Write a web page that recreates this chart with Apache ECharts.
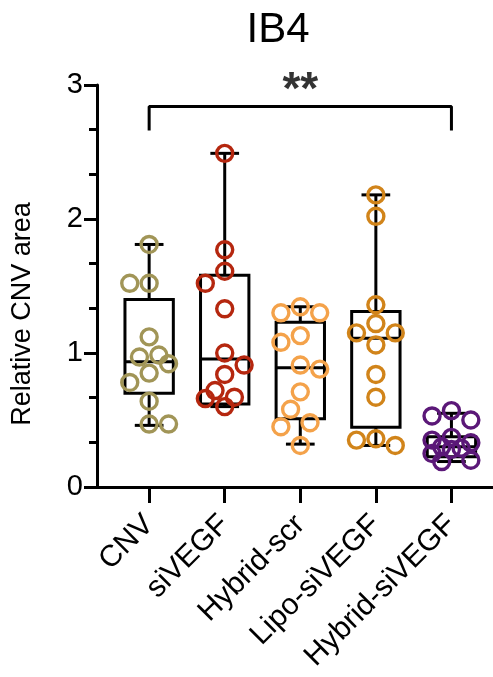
<!DOCTYPE html>
<html>
<head>
<meta charset="utf-8">
<script src="https://cdn.jsdelivr.net/npm/echarts@6/dist/echarts.min.js"></script>
<style>
html,body{margin:0;padding:0;background:#fff;}
#c{width:493px;height:677px;}
</style>
</head>
<body>
<div id="c"></div>
<script>
// ---- data ----
const categories = ['CNV', 'siVEGF', 'Hybrid-scr', 'Lipo-siVEGF', 'Hybrid-siVEGF'];
const cnvValues = [1.81, 1.52, 1.52, 1.12, 0.985, 0.97, 0.92, 0.85, 0.78, 0.64, 0.47, 0.47];
const siVEGFValues = [2.49, 1.77, 1.61, 1.52, 1.33, 1.00, 0.91, 0.84, 0.72, 0.67, 0.66, 0.60];
const hybridScrValues = [1.345, 1.30, 1.30, 1.13, 1.08, 0.91, 0.88, 0.71, 0.58, 0.48, 0.45, 0.31];
const lipoSiVEGFValues = [2.18, 2.02, 1.36, 1.22, 1.15, 1.15, 1.06, 0.84, 0.67, 0.36, 0.35, 0.31];
const hybridSiVEGFValues = [0.57, 0.53, 0.50, 0.37, 0.35, 0.33, 0.30, 0.29, 0.28, 0.25, 0.20, 0.19];
// box stats: [min, Q1, median, Q3, max]
const boxStats = [
  [0.46, 0.70, 0.935, 1.40, 1.81],
  [0.60, 0.62, 0.955, 1.58, 2.49],
  [0.32, 0.51, 0.89, 1.23, 1.345],
  [0.31, 0.445, 1.11, 1.31, 2.18],
  [0.19, 0.225, 0.30, 0.375, 0.55]
];
const yTicks = [0, 1, 2, 3];
const significance = { from: 0, to: 4, label: '**', y: 2.84, leg: 2.66 };
const titleText = 'IB4';
const yAxisName = 'Relative CNV area';

// ---- styling ----
const groupValues = [cnvValues, siVEGFValues, hybridScrValues, lipoSiVEGFValues, hybridSiVEGFValues];
const colors = ['#a19557', '#b5270f', '#f4a24a', '#d1841a', '#5b1878'];
const FONT = 'Liberation Sans, Arial, Helvetica, sans-serif';
const BOX_HALF = 0.32;
const CAP_HALF = 0.19;
const SYM = 16;
const BW = 3.4;
const LW = 3;

const chart = echarts.init(document.getElementById('c'), null, { renderer: 'canvas' });

function boxSeries() {
  return {
    type: 'custom',
    z: 2,
    clip: false,
    data: boxStats.map((s, i) => [i].concat(s)),
    renderItem: function (params, api) {
      const x = api.value(0);
      const mn = api.value(1), q1 = api.value(2), md = api.value(3), q3 = api.value(4), mx = api.value(5);
      const tl = api.coord([x - BOX_HALF, q3]);
      const br = api.coord([x + BOX_HALF, q1]);
      const st = { stroke: '#000', lineWidth: LW, fill: null };
      const line = (a, b) => ({ type: 'line', shape: { x1: a[0], y1: a[1], x2: b[0], y2: b[1] }, style: { stroke: '#000', lineWidth: LW } });
      return {
        type: 'group',
        children: [
          { type: 'rect', shape: { x: tl[0], y: tl[1], width: br[0] - tl[0], height: br[1] - tl[1] }, style: st },
          line(api.coord([x - BOX_HALF, md]), api.coord([x + BOX_HALF, md])),
          line(api.coord([x, q3]), api.coord([x, mx])),
          line(api.coord([x, q1]), api.coord([x, mn])),
          line(api.coord([x - CAP_HALF, mx]), api.coord([x + CAP_HALF, mx])),
          line(api.coord([x - CAP_HALF, mn]), api.coord([x + CAP_HALF, mn]))
        ]
      };
    }
  };
}

function pointSeries(xOffsets) {
  return groupValues.map((vals, gi) => ({
    type: 'scatter',
    z: 5,
    symbol: 'circle',
    symbolSize: SYM,
    clip: false,
    itemStyle: { color: 'rgba(255,255,255,0)', borderColor: colors[gi], borderWidth: BW, opacity: 1 },
    emphasis: { disabled: true },
    data: vals.map((v, i) => [gi + (xOffsets ? xOffsets[gi][i] : 0), v])
  }));
}

function buildOption(xOffsets) {
  return {
    animation: false,
    backgroundColor: '#fff',
    title: {
      text: titleText,
      left: 273,
      top: 4,
      textAlign: 'center',
      textStyle: { fontFamily: FONT, fontSize: 42, fontWeight: 'normal', color: '#000' }
    },
    graphic: [{
      type: 'text',
      x: 23, y: 314,
      rotation: Math.PI / 2,
      style: { text: yAxisName, font: '27px ' + FONT, fill: '#000', textAlign: 'center', textVerticalAlign: 'middle' }
    }],
    grid: { left: 97, right: 0, top: 85, bottom: 190, containLabel: false },
    xAxis: {
      type: 'value',
      min: -0.69,
      max: 4.55,
      splitLine: { show: false },
      axisLine: { show: true, onZero: false, lineStyle: { color: '#000', width: LW } },
      axisTick: { show: true, customValues: [0, 1, 2, 3, 4], length: 16, lineStyle: { color: '#000', width: LW } },
      axisLabel: {
        show: true,
        customValues: [0, 1, 2, 3, 4],
        formatter: v => categories[Math.round(v)],
        rotate: 45,
        margin: 33,
        fontFamily: FONT, fontSize: 30, color: '#000'
      }
    },
    yAxis: {
      type: 'value',
      min: 0, max: 3, interval: 1,
      splitLine: { show: false },
      axisLine: { show: true, onZero: false, lineStyle: { color: '#000', width: LW } },
      axisTick: { show: true, length: 13, lineStyle: { color: '#000', width: LW } },
      minorTick: { show: true, splitNumber: 3, length: 8, lineStyle: { color: '#000', width: LW } },
      axisLabel: { margin: 14, fontFamily: FONT, fontSize: 29, color: '#000',
        formatter: v => (yTicks.indexOf(v) >= 0 ? String(v) : '') }
    },
    series: [
      boxSeries(),
      {
        type: 'line',
        z: 3,
        symbol: 'none',
        clip: false,
        lineStyle: { color: '#000', width: LW },
        data: [[significance.from, significance.leg], [significance.from, significance.y],
               [significance.to, significance.y], [significance.to, significance.leg]]
      },
      {
        type: 'scatter',
        z: 3,
        symbolSize: 0,
        clip: false,
        data: [[(significance.from + significance.to) / 2, significance.y]],
        label: { show: true, position: 'top', distance: -8, formatter: significance.label,
          fontFamily: FONT, fontWeight: 'bold', fontSize: 46, color: '#000' }
      }
    ].concat(pointSeries(xOffsets))
  };
}

chart.setOption(buildOption(null));

// beeswarm-like horizontal spreading computed in pixel space
function swarm(values, gi) {
  const p0 = chart.convertToPixel({ gridIndex: 0 }, [gi, 0]);
  const p1 = chart.convertToPixel({ gridIndex: 0 }, [gi + 1, 0]);
  const unitX = p1[0] - p0[0];
  const d = SYM + BW;
  const order = values.map((v, i) => i).sort((a, b) => values[b] - values[a]);
  const placed = [];
  const offs = new Array(values.length).fill(0);
  let lastSide = 1;
  order.forEach(i => {
    const py = chart.convertToPixel({ gridIndex: 0 }, [gi, values[i]])[1];
    const cands = [0];
    for (let k = 1; k <= 2; k++) { cands.push(-lastSide * k * d / 2); cands.push(lastSide * k * d / 2); }
    let chosen = null, bestC = 0, bestD = -1;
    for (const c of cands) {
      let minD = Infinity;
      for (const p of placed) {
        const dx = c - p[0], dy = py - p[1];
        minD = Math.min(minD, Math.sqrt(dx * dx + dy * dy));
      }
      if (minD >= d * 0.95) { chosen = c; break; }
      if (minD > bestD) { bestD = minD; bestC = c; }
    }
    if (chosen === null) chosen = bestC;
    if (chosen !== 0) lastSide = chosen > 0 ? 1 : -1;
    placed.push([chosen, py]);
    offs[i] = chosen / unitX;
  });
  return offs;
}
const offsets = groupValues.map((vals, gi) => swarm(vals, gi));
chart.setOption(buildOption(offsets), true);
</script>
</body>
</html>
